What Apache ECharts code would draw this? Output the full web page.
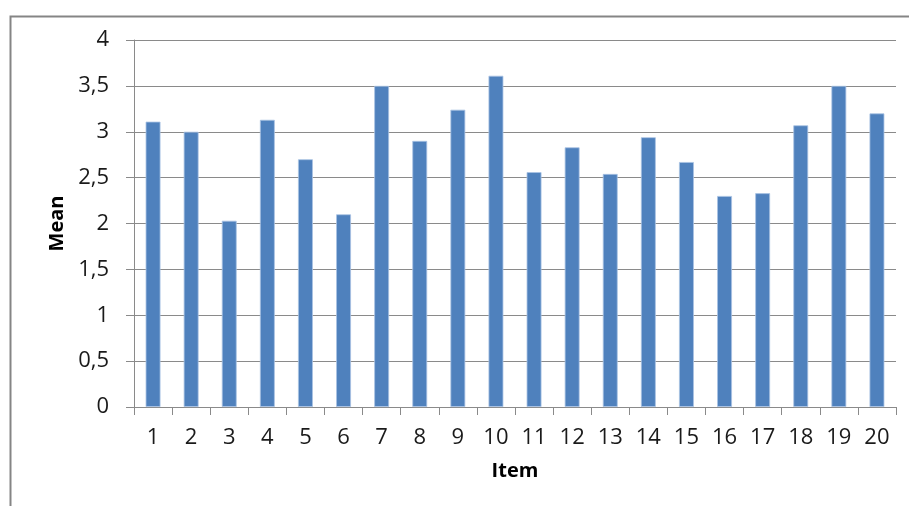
<!DOCTYPE html>
<html><head><meta charset="utf-8">
<script src="https://cdn.jsdelivr.net/npm/echarts@6/dist/echarts.min.js"></script>
<style>html,body{margin:0;padding:0;background:#fff}#c{width:909px;height:506px}</style>
</head><body><div id="c"></div>
<script>
const categories = ['1','2','3','4','5','6','7','8','9','10','11','12','13','14','15','16','17','18','19','20'];
const meanValues = [3.11, 3.00, 2.03, 3.13, 2.70, 2.10, 3.50, 2.90, 3.24, 3.61, 2.56, 2.83, 2.54, 2.94, 2.67, 2.30, 2.33, 3.07, 3.50, 3.20];
const yTicks = [0, 0.5, 1, 1.5, 2, 2.5, 3, 3.5, 4];

const chart = echarts.init(document.getElementById('c'));
const font = '"Open Sans", "Noto Sans", sans-serif';
chart.setOption({
  animation: false,
  graphic: [{
    type: 'rect', left: 8, top: 14,
    shape: { width: 940, height: 540 },
    style: { fill: 'none', stroke: '#858585', lineWidth: 2 }, silent: true
  }],
  grid: { left: 134, right: 13, top: 40, bottom: 99, containLabel: false },
  xAxis: {
    type: 'category', data: categories,
    name: 'Item', nameLocation: 'middle', nameGap: 54,
    nameTextStyle: { fontFamily: font, fontSize: 20, fontWeight: 'bold', color: '#000' },
    axisLine: { lineStyle: { color: '#8a8a8a', width: 1 } },
    axisTick: { show: true, alignWithLabel: false, length: 8, lineStyle: { color: '#8a8a8a' } },
    axisLabel: { fontFamily: font, fontSize: 22, color: '#1a1a1a', margin: 20, interval: 0 }
  },
  yAxis: {
    type: 'value', min: 0, max: 4, interval: 0.5,
    name: 'Mean', nameLocation: 'middle', nameGap: 67, nameRotate: 90,
    nameTextStyle: { fontFamily: font, fontSize: 20, fontWeight: 'bold', color: '#000' },
    axisLine: { show: true, lineStyle: { color: '#8a8a8a', width: 1 } },
    axisTick: { show: true, length: 8, lineStyle: { color: '#8a8a8a' } },
    splitLine: { lineStyle: { color: '#8a8a8a', width: 1 } },
    axisLabel: {
      fontFamily: font, fontSize: 22, color: '#1a1a1a', margin: 25,
      formatter: v => yTicks.includes(v) ? String(v).replace('.', ',') : ''
    }
  },
  series: [{
    type: 'bar', data: meanValues, barWidth: '39%',
    itemStyle: { color: '#4F81BD', borderColor: '#a9c3e3', borderWidth: 0.8 }
  }]
});
</script></body></html>
